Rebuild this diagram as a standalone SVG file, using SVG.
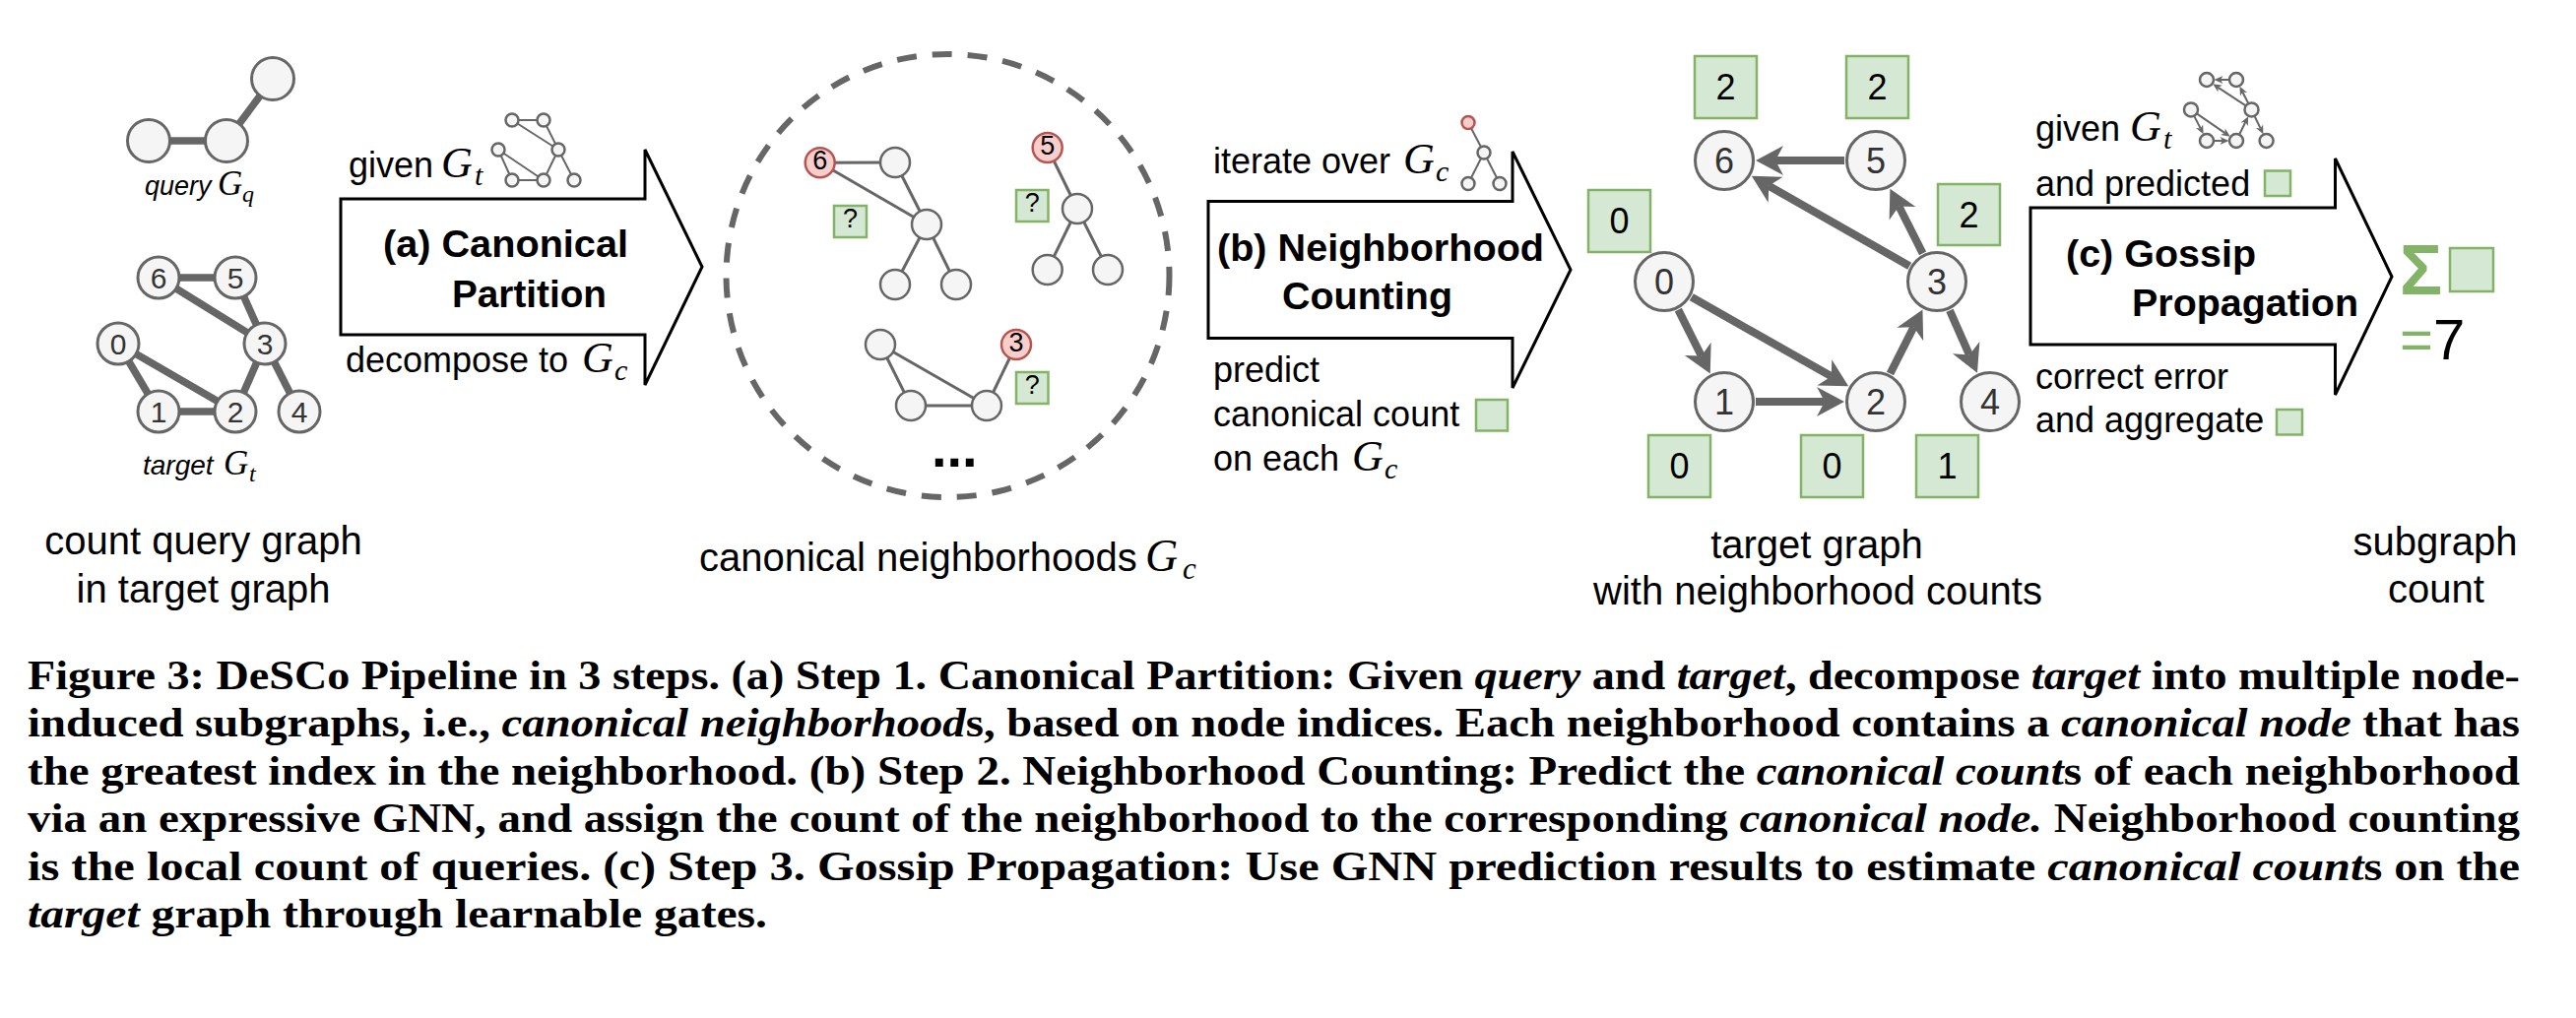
<svg xmlns="http://www.w3.org/2000/svg" width="2616" height="1034" viewBox="0 0 2616 1034">
<style>
.n{fill:#f5f5f5;stroke:#666;stroke-width:3}
.ns{fill:#f5f5f5;stroke:#666;stroke-width:2.5}
.r{fill:#f8cecc;stroke:#b85450;stroke-width:2.5}
.g{fill:#d5e8d4;stroke:#82b366;stroke-width:2.5}
.e{stroke:#666;fill:none;stroke-width:7.5}
.et{stroke:#666;fill:none;stroke-width:3}
.ei{stroke:#666;fill:none;stroke-width:2}
.ed{stroke:#666;fill:none;stroke-width:8;marker-end:url(#ah)}
.eis{stroke:#666;fill:none;stroke-width:2;marker-end:url(#as)}
.arr{fill:#fff;stroke:#000;stroke-width:3;stroke-linejoin:miter}
.t{font-family:"Liberation Sans",Arial,sans-serif;fill:#000}
.s{font-size:36px}
.lb{font-size:40px}
.b{font-size:39px;font-weight:bold}
.m{font-family:"Liberation Serif","Times New Roman",serif;font-style:italic;fill:#000}
.d{font-family:"Liberation Sans",Arial,sans-serif;text-anchor:middle;fill:#333}
.k{fill:#000}
.cap{font-family:"Liberation Serif","Times New Roman",serif;font-weight:bold;font-size:42px;fill:#000}
.i{font-style:italic}
</style>
<defs>
<marker id="ah" markerUnits="userSpaceOnUse" markerWidth="30" markerHeight="32" refX="8" refY="16" orient="auto" overflow="visible">
<path d="M28 16 L0 1 L8 16 L0 31 Z" fill="#666"/>
</marker>
<marker id="as" markerUnits="userSpaceOnUse" markerWidth="10" markerHeight="8" refX="2.5" refY="4" orient="auto" overflow="visible">
<path d="M9 4 L0 0 L2.5 4 L0 8 Z" fill="#666"/>
</marker>
</defs>
<rect width="2616" height="1034" fill="#fff"/>

<!-- query graph -->
<g id="query-graph">
<line class="e" x1="151" y1="143" x2="230" y2="143"/>
<line class="e" x1="230" y1="143" x2="277" y2="80"/>
<circle class="n" cx="151" cy="143" r="21.5"/>
<circle class="n" cx="230" cy="143" r="21.5"/>
<circle class="n" cx="277" cy="80" r="21.5"/>
<text class="t i" x="147" y="198" font-size="27">query</text>
<text class="m" x="221" y="198" font-size="35">G</text>
<text class="m" x="246" y="205" font-size="24">q</text>
</g>

<!-- target graph -->
<g id="target-graph">
<line class="e" x1="161" y1="282" x2="239" y2="282"/>
<line class="e" x1="161" y1="282" x2="269" y2="349"/>
<line class="e" x1="239" y1="282" x2="269" y2="349"/>
<line class="e" x1="120" y1="349" x2="161" y2="418"/>
<line class="e" x1="120" y1="349" x2="239" y2="418"/>
<line class="e" x1="161" y1="418" x2="239" y2="418"/>
<line class="e" x1="269" y1="349" x2="239" y2="418"/>
<line class="e" x1="269" y1="349" x2="304" y2="418"/>
<circle class="n" cx="161" cy="282" r="21"/>
<circle class="n" cx="239" cy="282" r="21"/>
<circle class="n" cx="120" cy="349" r="21"/>
<circle class="n" cx="269" cy="349" r="21"/>
<circle class="n" cx="161" cy="418" r="21"/>
<circle class="n" cx="239" cy="418" r="21"/>
<circle class="n" cx="304" cy="418" r="21"/>
<g class="d" font-size="30">
<text x="161" y="293">6</text><text x="239" y="293">5</text>
<text x="120" y="360">0</text><text x="269" y="360">3</text>
<text x="161" y="429">1</text><text x="239" y="429">2</text><text x="304" y="429">4</text>
</g>
<text class="t i" x="145" y="482" font-size="28">target</text>
<text class="m" x="227" y="482" font-size="35">G</text>
<text class="m" x="253" y="489" font-size="24">t</text>
<text class="t lb" x="206.5" y="563" text-anchor="middle">count query graph</text>
<text class="t lb" x="206.5" y="612" text-anchor="middle">in target graph</text>
</g>

<!-- step a arrow -->
<g id="step-a">
<path class="arr" d="M346 202 L655 202 L655 152 L713 271 L655 391 L655 340 L346 340 Z"/>
<text class="t b" x="389" y="261" textLength="249" lengthAdjust="spacingAndGlyphs">(a) Canonical</text>
<text class="t b" x="459" y="312" textLength="157" lengthAdjust="spacingAndGlyphs">Partition</text>
<text class="t s" x="354" y="180">given</text>
<text class="m" x="448" y="180" font-size="44">G</text>
<text class="m" x="482" y="188" font-size="30">t</text>
<text class="t s" x="351" y="378">decompose to</text>
<text class="m" x="591" y="378" font-size="44">G</text>
<text class="m" x="624" y="386" font-size="30">c</text>
<g id="icon-a">
<line class="ei" x1="520" y1="122" x2="552" y2="122"/>
<line class="ei" x1="520" y1="122" x2="567" y2="152"/>
<line class="ei" x1="552" y1="122" x2="567" y2="152"/>
<line class="ei" x1="506" y1="152" x2="520" y2="183"/>
<line class="ei" x1="506" y1="152" x2="552" y2="183"/>
<line class="ei" x1="520" y1="183" x2="552" y2="183"/>
<line class="ei" x1="567" y1="152" x2="552" y2="183"/>
<line class="ei" x1="567" y1="152" x2="583" y2="183"/>
<circle class="ns" cx="520" cy="122" r="6.5"/>
<circle class="ns" cx="552" cy="122" r="6.5"/>
<circle class="ns" cx="506" cy="152" r="6.5"/>
<circle class="ns" cx="567" cy="152" r="6.5"/>
<circle class="ns" cx="520" cy="183" r="6.5"/>
<circle class="ns" cx="552" cy="183" r="6.5"/>
<circle class="ns" cx="583" cy="183" r="6.5"/>
</g>
</g>

<!-- canonical neighborhoods -->
<g id="canonical-neighborhoods">
<circle cx="962.5" cy="280" r="225" fill="none" stroke="#666" stroke-width="6" stroke-dasharray="20 16"/>
<g id="nb-6">
<line class="et" x1="832.7" y1="165.3" x2="909" y2="165"/>
<line class="et" x1="832.7" y1="165.3" x2="941" y2="228"/>
<line class="et" x1="909" y1="165" x2="941" y2="228"/>
<line class="et" x1="941" y1="228" x2="909" y2="289"/>
<line class="et" x1="941" y1="228" x2="971" y2="289"/>
<circle class="ns" cx="909" cy="165" r="15"/>
<circle class="ns" cx="941" cy="228" r="15"/>
<circle class="ns" cx="909" cy="289" r="15"/>
<circle class="ns" cx="971" cy="289" r="15"/>
<circle class="r" cx="832.7" cy="165.3" r="15"/>
<text class="d k" x="832.7" y="172" font-size="27">6</text>
<rect class="g" x="847" y="209" width="33" height="32"/>
<text class="d k" x="863.5" y="231" font-size="27">?</text>
</g>
<g id="nb-5">
<line class="et" x1="1063.7" y1="150" x2="1094" y2="212"/>
<line class="et" x1="1094" y1="212" x2="1063.7" y2="274"/>
<line class="et" x1="1094" y1="212" x2="1125" y2="274"/>
<circle class="ns" cx="1094" cy="212" r="15"/>
<circle class="ns" cx="1063.7" cy="274" r="15"/>
<circle class="ns" cx="1125" cy="274" r="15"/>
<circle class="r" cx="1063.7" cy="150" r="15"/>
<text class="d k" x="1063.7" y="157" font-size="27">5</text>
<rect class="g" x="1032" y="193" width="32.5" height="32"/>
<text class="d k" x="1048.3" y="215" font-size="27">?</text>
</g>
<g id="nb-3">
<line class="et" x1="894" y1="350" x2="925" y2="412"/>
<line class="et" x1="894" y1="350" x2="1002" y2="412"/>
<line class="et" x1="925" y1="412" x2="1002" y2="412"/>
<line class="et" x1="1002" y1="412" x2="1032" y2="350"/>
<circle class="ns" cx="894" cy="350" r="15"/>
<circle class="ns" cx="925" cy="412" r="15"/>
<circle class="ns" cx="1002" cy="412" r="15"/>
<circle class="r" cx="1032" cy="350" r="15"/>
<text class="d k" x="1032" y="357" font-size="27">3</text>
<rect class="g" x="1032" y="378" width="32.5" height="32"/>
<text class="d k" x="1048.3" y="400" font-size="27">?</text>
</g>
<text class="t" x="946" y="474" font-size="56" font-weight="bold">...</text>
<text class="t lb" x="710" y="580">canonical neighborhoods</text>
<text class="m" x="1163" y="580" font-size="46">G</text>
<text class="m" x="1201" y="588" font-size="31">c</text>
</g>

<!-- step b arrow -->
<g id="step-b">
<path class="arr" d="M1227 204.5 L1536 204.5 L1536 154 L1595 274 L1536 394 L1536 343.5 L1227 343.5 Z"/>
<text class="t b" x="1236" y="265" textLength="332" lengthAdjust="spacingAndGlyphs">(b) Neighborhood</text>
<text class="t b" x="1302" y="314" textLength="173" lengthAdjust="spacingAndGlyphs">Counting</text>
<text class="t s" x="1232" y="176">iterate over</text>
<text class="m" x="1425" y="176" font-size="44">G</text>
<text class="m" x="1458" y="184" font-size="30">c</text>
<g id="icon-b">
<line class="ei" x1="1491" y1="124.5" x2="1507" y2="155"/>
<line class="ei" x1="1507" y1="155" x2="1491" y2="186.5"/>
<line class="ei" x1="1507" y1="155" x2="1523" y2="186.5"/>
<circle class="r" cx="1491" cy="124.5" r="6.5"/>
<circle class="ns" cx="1507" cy="155" r="6.5"/>
<circle class="ns" cx="1491" cy="186.5" r="6.5"/>
<circle class="ns" cx="1523" cy="186.5" r="6.5"/>
</g>
<text class="t s" x="1232" y="388">predict</text>
<text class="t s" x="1232" y="433">canonical count</text>
<rect class="g" x="1499" y="406" width="32" height="31.5"/>
<text class="t s" x="1232" y="478">on each</text>
<text class="m" x="1373" y="478" font-size="44">G</text>
<text class="m" x="1406" y="486" font-size="30">c</text>
</g>

<!-- target graph with counts -->
<g id="counted-graph">
<g id="connectors">
<line class="ed" x1="1873" y1="163" x2="1803" y2="163"/>
<line class="ed" x1="1939.2" y1="270.2" x2="1796.2" y2="188.7"/>
<line class="ed" x1="1952.6" y1="257.4" x2="1928.4" y2="209.5"/>
<line class="ed" x1="1704.3" y1="314.6" x2="1727.8" y2="361.5"/>
<line class="ed" x1="1717.8" y1="301.8" x2="1859.8" y2="382.3"/>
<line class="ed" x1="1783" y1="408" x2="1853" y2="408"/>
<line class="ed" x1="1919.5" y1="379.5" x2="1943.4" y2="332.3"/>
<line class="ed" x1="1980" y1="315.3" x2="1999.9" y2="360.4"/>
</g>
<g id="cn-6"><circle class="n" cx="1751" cy="163" r="29.5"/><text class="d" x="1751" y="176" font-size="36">6</text></g>
<g id="cn-5"><circle class="n" cx="1905" cy="163" r="29.5"/><text class="d" x="1905" y="176" font-size="36">5</text></g>
<g id="cn-0"><circle class="n" cx="1690" cy="286" r="29.5"/><text class="d" x="1690" y="299" font-size="36">0</text></g>
<g id="cn-3"><circle class="n" cx="1967" cy="286" r="29.5"/><text class="d" x="1967" y="299" font-size="36">3</text></g>
<g id="cn-1"><circle class="n" cx="1751" cy="408" r="29.5"/><text class="d" x="1751" y="421" font-size="36">1</text></g>
<g id="cn-2"><circle class="n" cx="1905" cy="408" r="29.5"/><text class="d" x="1905" y="421" font-size="36">2</text></g>
<g id="cn-4"><circle class="n" cx="2021" cy="408" r="29.5"/><text class="d" x="2021" y="421" font-size="36">4</text></g>
<g id="counts" font-size="36">
<rect class="g" x="1721" y="57" width="63" height="63"/><text class="d k" x="1752.5" y="101">2</text>
<rect class="g" x="1875" y="57" width="63" height="63"/><text class="d k" x="1906.5" y="101">2</text>
<rect class="g" x="1613" y="193" width="63" height="63"/><text class="d k" x="1644.5" y="237">0</text>
<rect class="g" x="1968" y="187" width="63" height="62"/><text class="d k" x="1999.5" y="231">2</text>
<rect class="g" x="1674" y="442" width="63" height="63"/><text class="d k" x="1705.5" y="486">0</text>
<rect class="g" x="1829" y="442" width="63" height="63"/><text class="d k" x="1860.5" y="486">0</text>
<rect class="g" x="1946" y="442" width="63" height="63"/><text class="d k" x="1977.5" y="486">1</text>
</g>
<text class="t lb" x="1845" y="567" text-anchor="middle">target graph</text>
<text class="t lb" x="1846" y="614" text-anchor="middle">with neighborhood counts</text>
</g>

<!-- step c arrow -->
<g id="step-c">
<path class="arr" d="M2062 211 L2371.5 211 L2371.5 161 L2429 281 L2371.5 401 L2371.5 350 L2062 350 Z"/>
<text class="t b" x="2098" y="271" textLength="193" lengthAdjust="spacingAndGlyphs">(c) Gossip</text>
<text class="t b" x="2165" y="321" textLength="230" lengthAdjust="spacingAndGlyphs">Propagation</text>
<text class="t s" x="2067" y="143">given</text>
<text class="m" x="2163" y="143" font-size="44">G</text>
<text class="m" x="2197" y="151" font-size="30">t</text>
<text class="t s" x="2067" y="199">and predicted</text>
<rect class="g" x="2300" y="173.5" width="26" height="25.5"/>
<text class="t s" x="2067" y="395">correct error</text>
<text class="t s" x="2067" y="439">and aggregate</text>
<rect class="g" x="2312" y="416" width="26" height="25.5"/>
<g id="icon-c">
<line class="eis" x1="2263.5" y1="81" x2="2255" y2="81"/>
<line class="eis" x1="2280.3" y1="107.2" x2="2252.6" y2="88.8"/>
<line class="eis" x1="2283.1" y1="104.7" x2="2277.4" y2="93.5"/>
<line class="eis" x1="2228.4" y1="118.1" x2="2234.7" y2="130.5"/>
<line class="eis" x1="2231.2" y1="115.6" x2="2259.5" y2="135.1"/>
<line class="eis" x1="2248.5" y1="143" x2="2257" y2="143"/>
<line class="eis" x1="2274.3" y1="136.3" x2="2280.3" y2="124"/>
<line class="eis" x1="2289.7" y1="118.2" x2="2295.6" y2="130.4"/>
<circle class="ns" cx="2241" cy="81" r="7"/>
<circle class="ns" cx="2271" cy="81" r="7"/>
<circle class="ns" cx="2225" cy="111.4" r="7"/>
<circle class="ns" cx="2286.5" cy="111.4" r="7"/>
<circle class="ns" cx="2241" cy="143" r="7"/>
<circle class="ns" cx="2271" cy="143" r="7"/>
<circle class="ns" cx="2301.6" cy="143" r="7"/>
</g>
</g>

<!-- result -->
<g id="result">
<text class="t" x="2437" y="299" font-size="72" font-weight="bold" style="fill:#82b366">Σ</text>
<rect class="g" x="2488" y="252" width="44" height="44"/>
<text class="t" x="2437" y="364.5" font-size="58"><tspan style="fill:#82b366">=</tspan><tspan style="fill:#000">7</tspan></text>
<text class="t lb" x="2473" y="564" text-anchor="middle">subgraph</text>
<text class="t lb" x="2474" y="612" text-anchor="middle">count</text>
</g>

<!-- caption -->
<g id="caption">
<text class="cap" x="28" y="700" textLength="2531" lengthAdjust="spacingAndGlyphs">Figure 3: DeSCo Pipeline in 3 steps. (a) Step 1. Canonical Partition: Given <tspan class="i">query</tspan> and <tspan class="i">target</tspan>, decompose <tspan class="i">target</tspan> into multiple node-</text>
<text class="cap" x="28" y="748" textLength="2531" lengthAdjust="spacingAndGlyphs">induced subgraphs, i.e., <tspan class="i">canonical neighborhood</tspan>s, based on node indices. Each neighborhood contains a <tspan class="i">canonical node</tspan> that has</text>
<text class="cap" x="28" y="797" textLength="2531" lengthAdjust="spacingAndGlyphs">the greatest index in the neighborhood. (b) Step 2. Neighborhood Counting: Predict the <tspan class="i">canonical count</tspan>s of each neighborhood</text>
<text class="cap" x="28" y="845" textLength="2531" lengthAdjust="spacingAndGlyphs">via an expressive GNN, and assign the count of the neighborhood to the corresponding <tspan class="i">canonical node.</tspan> Neighborhood counting</text>
<text class="cap" x="28" y="894" textLength="2531" lengthAdjust="spacingAndGlyphs">is the local count of queries. (c) Step 3. Gossip Propagation: Use GNN prediction results to estimate <tspan class="i">canonical count</tspan>s on the</text>
<text class="cap" x="28" y="942" textLength="751" lengthAdjust="spacingAndGlyphs"><tspan class="i">target</tspan> graph through learnable gates.</text>
</g>
</svg>
